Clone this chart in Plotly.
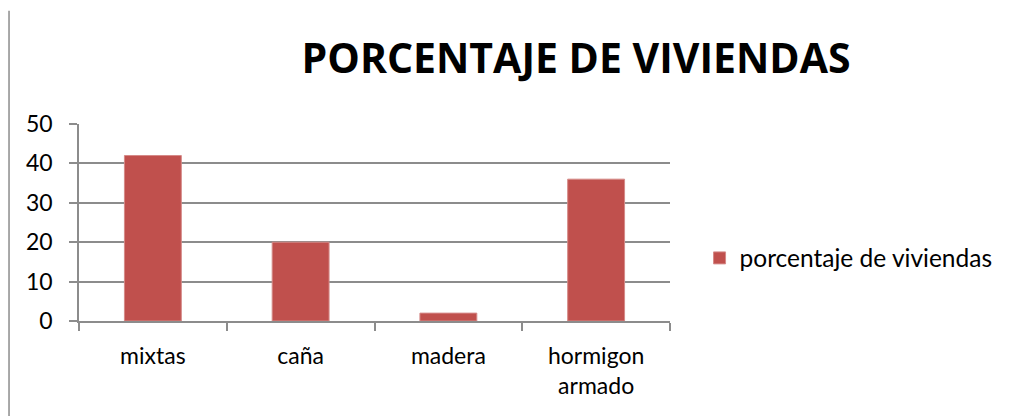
import plotly.graph_objects as go

categories = ["mixtas", "caña", "madera", "hormigon<br>armado"]
values = [42, 20, 2, 36]
series_name = "porcentaje de viviendas"
y_ticks = [0, 10, 20, 30, 40, 50]

FONT = "Lato"
fig = go.Figure()
fig.add_trace(go.Bar(
    x=categories, y=values, name=series_name,
    marker=dict(color="#C0504D", line=dict(color="#D58A88", width=1)),
    width=0.385,
))

fig.update_layout(
    width=1015, height=416,
    margin=dict(l=79, r=345, t=124, b=95),
    paper_bgcolor="white", plot_bgcolor="white",
    font=dict(family=FONT, size=23, color="black"),
    title=dict(text="<b>PORCENTAJE DE VIVIENDAS</b>", font=dict(family="Open Sans", size=41, color="black"),
               x=0.5675, xref="container", xanchor="center",
               y=0.86, yref="container", yanchor="middle"),
    showlegend=True,
    legend=dict(x=1.05, xanchor="left", y=0.32, yanchor="middle",
                font=dict(family=FONT, size=24.5, color="black"),
                itemwidth=30, bgcolor="rgba(0,0,0,0)"),
    bargap=0.6,
)
fig.update_yaxes(range=[0, 50], tickvals=y_ticks, showgrid=True, gridcolor="#8C8C8C", gridwidth=1.5,
                 showline=True, linecolor="#8C8C8C", linewidth=1.5,
                 ticks="outside", ticklen=8, tickcolor="#8C8C8C", tickwidth=1.5,
                 zeroline=False, ticklabelstandoff=12, fixedrange=True)
fig.update_xaxes(showline=True, linecolor="#8C8C8C", linewidth=1.5,
                 ticks="outside", ticklen=8, tickcolor="#8C8C8C", tickwidth=1.5,
                 tickson="boundaries", ticklabelstandoff=14, fixedrange=True)
fig.add_shape(type="line", xref="paper", yref="paper",
              x0=-0.1184, x1=-0.1184, y0=-0.5, y1=1.575,
              line=dict(color="#8C8C8C", width=1.5))
fig.write_html("out.html", config={"displayModeBar": False},
               post_script="document.body.style.margin='0';")
